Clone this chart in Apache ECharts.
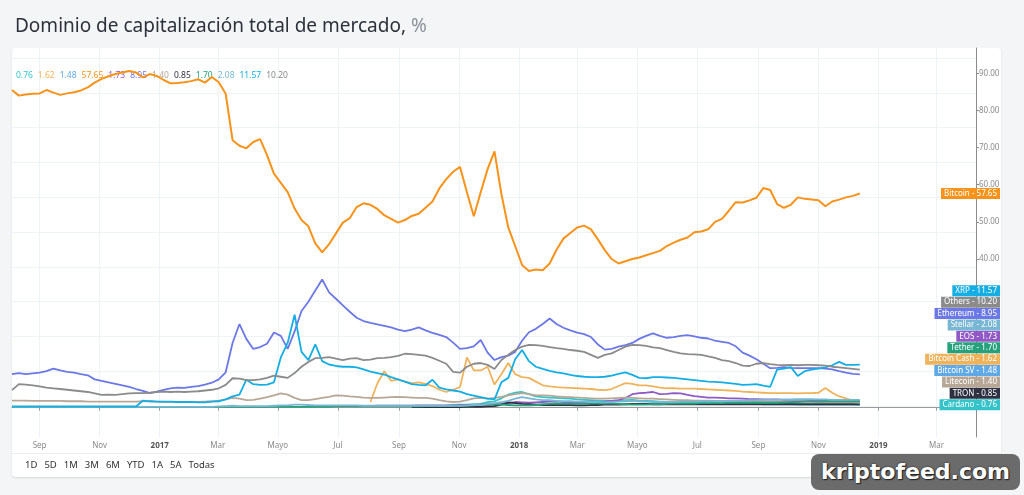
<!DOCTYPE html>
<html>
<head>
<meta charset="utf-8">
<script src="https://cdn.jsdelivr.net/npm/echarts@6/dist/echarts.min.js"></script>
<style>
  html, body { margin: 0; padding: 0; background: #f4f5f7; }
  #card {
    position: absolute; left: 12px; top: 48px; width: 989px; height: 429px;
    background: #fff; border-radius: 4px; box-shadow: 0 1px 2px rgba(0,0,0,0.12);
  }
  #sep { position: absolute; left: 12px; top: 453px; width: 989px; height: 1px; background: #eceef1; }
  #main { position: absolute; left: 0; top: 0; width: 1024px; height: 495px; }
  #ranges {
    position: absolute; left: 25px; top: 458px; font: 9.5px "Noto Sans", sans-serif; color: #333;
  }
  #ranges span { margin-right: 7px; }
  #mark {
    position: absolute; left: 811px; top: 454px; width: 209px; height: 36px;
    background: #6b6b6b; border-radius: 8px; color: #fff; text-align: center;
    font: bold 22px "DejaVu Sans", sans-serif; line-height: 36px;
    text-shadow: 0 0 2px #222, 1px 1px 1px #222;
  }
</style>
</head>
<body>
<div id="card"></div>
<div id="sep"></div>
<div id="main"></div>
<div id="ranges"><span>1D</span><span>5D</span><span>1M</span><span>3M</span><span>6M</span><span>YTD</span><span>1A</span><span>5A</span><span>Todas</span></div>
<div id="mark">kriptofeed.com</div>
<script>
// weekly samples, first week = 2016-08-04
const weekStart = Date.UTC(2016, 7, 4);

const monthTicks = ['2016-09-01','2016-11-01','2017-01-01','2017-03-01','2017-05-01','2017-07-01',
  '2017-09-01','2017-11-01','2018-01-01','2018-03-01','2018-05-01','2018-07-01',
  '2018-09-01','2018-11-01','2019-01-01','2019-03-01'];
const monthLabels = ['Sep','Nov','2017','Mar','Mayo','Jul','Sep','Nov','2018','Mar','Mayo','Jul','Sep','Nov','2019','Mar'];
const yTicks = [40, 50, 60, 70, 80, 90];

const bitcoin = [85.5,84.0,84.3,84.5,84.6,85.5,84.8,84.2,84.6,84.9,
  85.4,86.2,87.5,88.5,89.2,89.8,90.2,90.6,90.2,88.9,
  89.8,89.3,88.2,87.3,87.4,87.6,87.9,88.4,87.5,89.0,
  87.6,84.5,72.0,70.5,69.8,71.5,72.3,68.0,63.0,60.5,
  58.0,53.6,50.5,48.8,44.2,41.8,44.0,46.9,49.8,51.0,
  54.0,55.0,54.6,53.5,51.8,50.8,49.8,50.5,51.6,52.2,
  53.8,55.5,59.0,61.5,63.5,64.8,58.0,51.5,58.0,64.2,
  69.0,57.5,48.5,43.5,38.4,36.8,37.2,37.0,38.8,42.5,
  45.5,47.0,48.5,49.0,48.0,45.3,42.4,40.0,38.8,39.4,
  40.0,40.4,41.0,41.6,42.2,43.5,44.4,45.2,45.8,47.2,
  47.4,48.0,50.0,50.8,53.0,55.3,55.2,55.8,56.5,59.1,
  58.6,54.8,53.8,54.6,56.6,56.2,56.0,55.8,54.2,55.5,
  56.0,56.6,57.0,57.65];

const ethereum = [9.0,9.3,9.0,9.2,9.4,9.8,10.5,10.0,9.6,9.4,
  9.0,8.7,7.6,7.2,6.8,6.4,6.0,5.6,5.0,4.5,
  3.9,4.3,4.8,5.2,5.4,5.3,5.6,5.8,6.2,6.7,
  7.6,9.5,17.4,22.5,18.5,15.8,16.3,17.2,20.2,19.3,
  15.8,20.5,26.0,28.5,31.5,34.5,31.0,29.3,27.5,25.8,
  24.2,23.3,22.8,22.4,22.0,21.6,21.0,20.6,21.0,21.6,
  20.8,20.1,19.6,19.0,17.5,15.8,16.0,16.5,18.2,14.8,
  12.8,13.6,14.0,15.0,18.0,20.3,21.2,22.5,24.0,22.5,
  21.5,20.8,20.2,19.8,19.0,17.0,15.6,15.8,16.4,16.8,
  17.4,18.5,19.3,20.0,19.3,18.8,19.0,19.3,19.5,19.2,
  18.8,18.6,18.0,17.7,17.4,16.5,14.8,14.0,13.0,11.8,
  10.6,10.7,10.9,10.7,10.6,10.6,10.6,10.6,10.5,10.3,
  9.8,9.4,9.1,8.95];

const xrp = [0.3,0.3,0.3,0.3,0.3,0.3,0.3,0.3,0.3,0.3,
  0.3,0.3,0.3,0.3,0.3,0.3,0.3,0.3,0.3,1.9,
  1.7,1.6,1.6,1.6,1.5,1.5,1.5,1.4,1.4,1.6,
  1.7,2.2,3.0,3.5,7.5,6.3,6.1,6.2,6.8,13.5,
  17.5,25.0,15.0,12.8,17.0,12.5,11.6,11.2,11.0,11.0,
  10.8,10.3,9.7,9.3,8.9,8.2,7.6,7.0,6.3,6.1,
  6.0,7.5,5.4,4.9,4.6,4.3,3.6,3.2,2.8,2.4,
  2.2,6.8,8.0,13.0,15.5,12.5,11.0,10.4,9.9,9.5,
  9.2,8.8,8.5,8.3,8.2,8.2,8.3,8.6,9.1,9.5,
  8.8,8.0,7.9,8.2,8.2,8.1,8.0,7.8,7.6,7.4,
  7.2,7.0,6.9,6.8,6.6,6.4,6.1,6.2,6.3,5.9,
  5.6,10.2,10.5,10.9,8.5,9.8,10.2,10.5,10.8,11.4,
  12.3,11.5,11.5,11.57];

const others = [4.7,6.3,6.2,6.0,5.7,5.4,5.2,5.0,4.8,4.6,
  4.4,4.2,3.8,3.4,3.5,3.4,3.6,3.8,3.9,3.9,
  4.0,4.2,4.3,4.2,4.3,4.2,4.3,4.4,4.6,4.8,
  5.2,6.1,7.9,7.8,7.4,7.4,7.6,8.0,8.6,8.3,
  8.0,9.3,11.0,12.3,13.3,13.4,13.6,13.2,12.8,13.2,
  13.3,12.8,12.9,13.3,13.4,13.6,13.9,14.5,14.4,14.2,
  14.0,13.4,12.6,11.8,9.6,9.4,11.0,11.8,12.0,11.5,
  10.4,12.8,14.2,15.5,16.4,16.9,16.8,16.6,16.3,16.0,
  15.8,15.5,15.3,15.0,14.2,13.4,14.2,14.6,15.5,16.4,
  16.9,16.8,16.6,16.2,16.0,15.5,15.0,14.6,14.4,14.3,
  14.2,13.8,13.4,12.8,12.5,12.0,11.3,11.2,11.8,12.0,
  11.7,11.5,11.4,11.5,11.4,11.5,11.5,11.4,11.3,11.0,
  10.8,10.6,10.4,10.2];

// starts at week 52
const bitcoinCash = [1.5,6.5,9.8,7.2,7.6,7.0,6.6,6.8,6.4,5.8,
  4.8,4.2,4.8,5.5,13.5,10.0,10.0,11.0,6.2,9.0,
  12.0,9.0,8.2,8.0,7.0,6.0,5.7,5.5,5.4,5.3,
  5.2,5.1,5.0,4.8,4.7,5.0,5.8,6.6,6.4,6.0,
  6.0,5.7,5.4,5.2,5.2,5.1,5.1,5.1,5.0,4.9,
  4.8,4.7,4.6,4.5,4.3,4.2,4.1,4.0,3.9,3.9,
  3.9,3.9,3.8,3.9,3.9,4.0,5.3,4.0,3.0,2.5,
  1.9,1.62];

const litecoin = [1.9,1.9,1.9,1.8,1.8,1.8,1.8,1.8,1.7,1.7,
  1.7,1.6,1.6,1.6,1.6,1.6,1.6,1.6,1.6,1.7,
  1.7,1.6,1.5,1.5,1.5,1.5,1.5,1.5,1.6,1.7,
  1.9,2.2,2.6,2.4,2.0,2.1,2.4,2.8,3.3,3.8,
  3.5,2.6,2.0,2.0,2.3,2.6,2.9,3.3,3.2,3.0,
  2.9,2.7,2.6,2.6,2.7,2.8,2.9,2.8,2.7,2.6,
  2.6,2.4,2.0,1.7,1.5,1.6,2.0,2.5,2.6,2.4,
  2.6,2.9,3.3,3.6,3.9,3.6,3.3,3.3,3.2,3.0,
  2.9,2.8,2.7,2.6,2.5,2.4,2.4,2.5,2.6,2.7,
  2.6,2.5,2.4,2.4,2.3,2.2,2.1,2.0,2.0,1.9,
  1.9,1.9,1.8,1.8,1.8,1.8,1.7,1.7,1.7,1.7,
  1.6,1.6,1.6,1.6,1.6,1.6,1.6,1.5,1.5,1.5,
  1.5,1.5,1.45,1.4];

// starts at week 50
const eos = [0.4,0.4,0.4,0.5,0.5,0.5,0.5,0.5,0.5,0.6,
  0.6,0.6,0.6,0.6,0.6,0.7,0.7,0.7,0.8,0.8,
  0.9,1.0,1.2,1.5,1.4,1.3,1.4,1.5,1.6,1.7,
  1.5,1.4,1.4,1.5,1.6,1.5,1.6,1.8,2.0,2.6,
  3.6,3.9,4.0,4.2,3.6,3.7,3.9,3.8,3.4,3.1,
  2.9,2.7,2.7,2.6,2.5,2.5,2.4,2.3,2.3,2.2,
  2.2,2.2,2.1,2.1,2.1,2.1,2.0,2.0,2.0,1.9,
  1.9,1.8,1.8,1.73];

const tether = [0.1,0.1,0.1,0.1,0.1,0.1,0.1,0.1,0.1,0.1,
  0.1,0.1,0.1,0.1,0.1,0.1,0.1,0.1,0.1,0.1,
  0.1,0.1,0.1,0.1,0.1,0.2,0.2,0.2,0.2,0.2,
  0.2,0.2,0.2,0.2,0.2,0.2,0.2,0.2,0.2,0.2,
  0.2,0.2,0.2,0.2,0.2,0.2,0.2,0.3,0.3,0.3,
  0.3,0.3,0.3,0.3,0.3,0.3,0.3,0.3,0.3,0.3,
  0.4,0.4,0.4,0.4,0.5,0.5,0.5,0.6,0.8,0.9,
  0.9,0.8,0.7,0.6,0.6,0.6,0.7,0.9,1.0,1.1,
  1.0,1.0,1.0,1.0,1.1,1.1,1.1,1.1,1.0,0.9,
  0.8,0.8,0.8,0.9,0.9,1.0,1.1,1.1,1.1,1.1,
  1.2,1.2,1.2,1.2,1.3,1.3,1.3,1.3,1.3,1.3,
  1.3,1.3,1.4,1.5,1.5,1.6,1.6,1.6,1.7,1.7,
  1.7,1.7,1.7,1.70];

const stellar = [0.2,0.2,0.2,0.2,0.2,0.2,0.2,0.2,0.2,0.2,
  0.2,0.2,0.2,0.2,0.2,0.2,0.2,0.2,0.2,0.2,
  0.2,0.2,0.2,0.2,0.2,0.2,0.2,0.2,0.2,0.2,
  0.3,0.4,0.5,0.4,0.4,0.4,0.4,0.4,0.5,0.6,
  0.6,0.8,0.8,0.7,0.6,0.6,0.6,0.6,0.6,0.6,
  0.6,0.5,0.5,0.5,0.5,0.5,0.5,0.5,0.5,0.5,
  0.5,0.5,0.5,0.5,0.5,0.5,0.6,0.7,0.7,1.0,
  1.2,1.5,1.8,2.4,2.8,2.5,2.2,2.0,2.0,1.8,
  1.7,1.7,1.6,1.6,1.5,1.5,1.4,1.5,1.6,1.7,
  1.8,1.7,1.6,1.5,1.5,1.5,1.5,1.6,1.6,1.6,
  1.7,1.7,1.8,1.8,1.8,1.9,1.9,2.0,2.0,2.1,
  2.1,2.1,2.2,2.2,2.3,2.3,2.3,2.2,2.2,2.1,
  2.1,2.1,2.1,2.08];

// starts at week 60
const cardano = [0.3,0.3,0.4,0.5,0.7,0.8,0.8,0.9,1.0,1.5,
  1.7,2.5,3.5,4.0,4.2,3.6,3.0,2.8,2.7,2.6,
  2.5,2.4,2.2,2.1,2.0,1.9,1.8,1.8,1.9,2.0,
  2.1,1.9,1.8,1.7,1.6,1.5,1.4,1.4,1.3,1.3,
  1.3,1.2,1.2,1.1,1.0,1.0,1.0,1.0,1.0,0.9,
  0.9,0.9,0.9,0.9,0.8,0.8,0.8,0.8,0.8,0.8,
  0.8,0.8,0.8,0.76];

// starts at week 58
const tron = [0.1,0.1,
  0.1,0.1,0.1,0.1,0.1,0.1,0.2,0.2,0.2,0.3,
  0.4,0.8,1.4,1.2,1.0,0.9,0.8,0.7,0.7,0.7,
  0.7,0.7,0.6,0.6,0.7,0.7,0.8,0.8,0.8,0.9,
  1.0,1.0,1.0,0.9,0.9,0.9,0.9,0.9,0.9,0.9,
  0.9,0.9,0.9,0.9,0.9,0.9,0.9,0.9,0.9,0.9,
  0.9,0.9,0.9,0.9,0.9,0.9,0.9,0.9,0.9,0.9,
  0.9,0.9,0.9,0.85];

// starts at week 117
const bitcoinSV = [1.6,1.5,1.6,1.5,1.5,1.5,1.48];

const coins = [
  { name: 'Cardano', data: cardano, first: 60, color: '#33c3c8' },
  { name: 'Bitcoin Cash', data: bitcoinCash, first: 52, color: '#efb35c' },
  { name: 'Bitcoin SV', data: bitcoinSV, first: 117, color: '#5ea9e6' },
  { name: 'Bitcoin', data: bitcoin, first: 0, color: '#f7931a' },
  { name: 'EOS', data: eos, first: 50, color: '#9159c5' },
  { name: 'Ethereum', data: ethereum, first: 0, color: '#6b78e6' },
  { name: 'Litecoin', data: litecoin, first: 0, color: '#b7a797' },
  { name: 'TRON', data: tron, first: 58, color: '#2e3142' },
  { name: 'Tether', data: tether, first: 0, color: '#26a17b' },
  { name: 'Stellar', data: stellar, first: 0, color: '#78b7d4' },
  { name: 'XRP', data: xrp, first: 0, color: '#14aee4' },
  { name: 'Others', data: others, first: 0, color: '#8b8b8b' }
];

const week = 7 * 86400000;
const tickTimes = monthTicks.map(d => Date.parse(d + 'T00:00:00Z'));
const lastOf = c => c.data[c.data.length - 1];
const font = '"Noto Sans", sans-serif';

let myChart = echarts.init(document.getElementById('main'));

myChart.setOption({
  animation: false,
  title: {
    text: '{a|Dominio de capitalización total de mercado, }{b|%}',
    left: 10,
    top: 12,
    textStyle: {
      fontWeight: 'normal',
      rich: {
        a: { fontSize: 19, color: '#2c313a', fontFamily: font, fontWeight: 'normal' },
        b: { fontSize: 19, color: '#8b9099', fontFamily: font, fontWeight: 'normal' }
      }
    }
  },
  legend: {
    left: 6,
    top: 66,
    itemWidth: 0,
    itemHeight: 0,
    itemGap: 0,
    icon: 'rect',
    selectedMode: false,
    data: coins.map(c => ({ name: c.name, textStyle: { color: c.color } })),
    formatter: name => lastOf(coins.find(c => c.name === name)).toFixed(2),
    textStyle: { fontSize: 8.5, fontFamily: font }
  },
  grid: [
    { left: 12, right: 48, top: 48, bottom: 58 },
    // only used for the horizontal grid lines
    { left: 12, right: 48, top: 58, bottom: 89 }
  ],
  xAxis: [
    {
      type: 'value',
      gridIndex: 0,
      min: Date.UTC(2016, 7, 4),
      max: Date.UTC(2019, 3, 10),
      axisLine: { lineStyle: { color: '#9a9a9a', width: 1 } },
      axisTick: { show: true, length: 3, lineStyle: { color: '#9a9a9a' }, customValues: tickTimes },
      axisLabel: {
        customValues: tickTimes,
        margin: 5,
        fontSize: 8,
        color: '#8a8a8a',
        fontFamily: font,
        formatter: (value) => {
          const k = tickTimes.indexOf(value);
          const t = k < 0 ? '' : monthLabels[k];
          return /^\d{4}$/.test(t) ? '{y|' + t + '}' : t;
        },
        rich: { y: { fontSize: 8, color: '#555', fontWeight: 'bold', fontFamily: font } }
      },
      splitLine: { show: true, lineStyle: { color: '#edf3f7', width: 1 } }
    },
    { type: 'value', gridIndex: 1, show: false }
  ],
  yAxis: [
    {
      type: 'value',
      gridIndex: 0,
      position: 'right',
      min: -7.92,
      max: 96.82,
      axisLine: { show: true, lineStyle: { color: '#8c8c8c', width: 1 } },
      axisTick: { show: true, length: 3, lineStyle: { color: '#8c8c8c' }, customValues: yTicks },
      axisLabel: {
        customValues: yTicks,
        margin: 3,
        fontSize: 8,
        color: '#8a8a8a',
        fontFamily: font,
        formatter: v => v.toFixed(2)
      },
      splitLine: { show: false }
    },
    {
      type: 'value',
      gridIndex: 1,
      min: 0,
      max: 10,
      interval: 1,
      axisLine: { show: false },
      axisTick: { show: false },
      axisLabel: { show: false },
      splitLine: { show: true, lineStyle: { color: '#edf3f7', width: 1 } }
    }
  ],
  series: coins.map(c => ({
    name: c.name,
    type: 'line',
    xAxisIndex: 0,
    yAxisIndex: 0,
    showSymbol: false,
    symbol: 'none',
    color: c.color,
    lineStyle: { width: c.name === 'Bitcoin' ? 2 : 1.8, color: c.color },
    z: c.name === 'Bitcoin' ? 4 : 3,
    data: c.data.map((v, k) => [weekStart + (c.first + k) * week, v])
  }))
});

// price-scale tags on the right, stacked so they don't overlap
let tags = coins.map(c => ({ c: c, v: lastOf(c) })).sort((a, b) => a.v - b.v);
let prevY = Infinity;
let graphics = [];
tags.forEach(t => {
  let y = myChart.convertToPixel({ yAxisIndex: 0 }, t.v);
  y = Math.min(y, prevY - 11.4);
  prevY = y;
  graphics.push({
    type: 'text',
    x: 1000,
    y: y,
    z: 10,
    style: {
      text: t.c.name + ' - ' + t.v.toFixed(2),
      align: 'right',
      verticalAlign: 'middle',
      fill: '#fff',
      fontSize: 8,
      fontFamily: font,
      backgroundColor: t.c.color,
      padding: [2, 3, 1, 3]
    }
  });
});
myChart.setOption({ graphic: graphics });

window.addEventListener('resize', () => {
  myChart.resize();
});
</script>
</body>
</html>
